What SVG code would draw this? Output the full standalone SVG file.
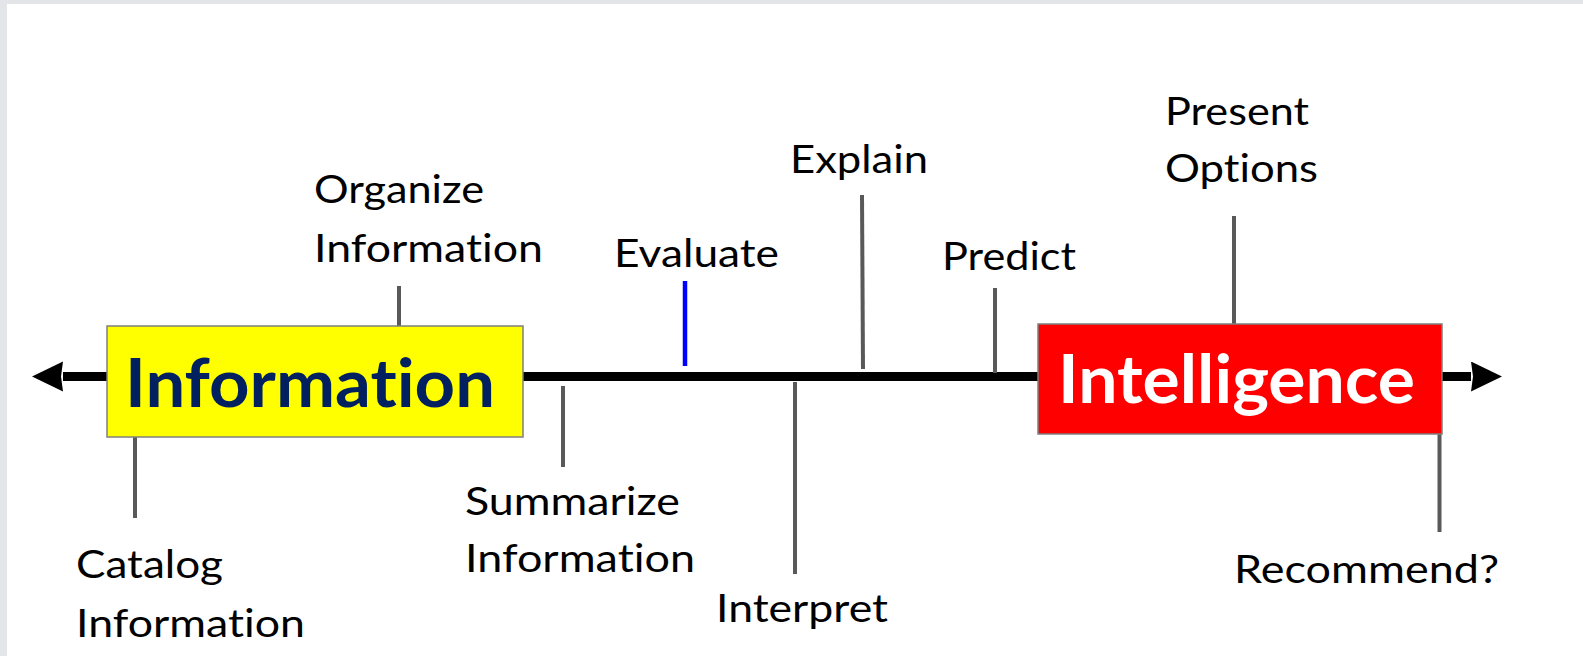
<svg xmlns="http://www.w3.org/2000/svg" width="1583" height="656" viewBox="0 0 1583 656">
<style>
text{font-variant-ligatures:none;font-feature-settings:"liga" 0,"clig" 0}
.lbl{font-family:Lato,"Liberation Sans",sans-serif;font-size:39px;fill:#000}
.big{font-family:Lato,"Liberation Sans",sans-serif;font-size:67px;font-weight:bold}
.tick{stroke:#595959;stroke-width:4;fill:none}
.box{stroke:#7f7f7f;stroke-width:1.5}
</style>
<defs>
<marker id="arr" markerUnits="userSpaceOnUse" markerWidth="32" markerHeight="31" refX="0" refY="15" orient="auto-start-reverse" viewBox="0 0 32 31">
<path d="M0,0 L31,15 L0,30 L2,15 z" fill="#000"/>
</marker>
</defs>
<rect x="0" y="0" width="1583" height="656" fill="#fff"/>
<rect x="0" y="0" width="1583" height="4" fill="#e4e5e9"/>
<rect x="0" y="0" width="7" height="656" fill="#e4e5e9"/>

<g id="connectors">
<line x1="63" y1="376.5" x2="1471" y2="376.5" stroke="#000" stroke-width="9" marker-start="url(#arr)" marker-end="url(#arr)"/>
<line class="tick" x1="399" y1="286" x2="399" y2="326"/>
<line class="tick" x1="135" y1="437" x2="135" y2="518"/>
<line class="tick" x1="563" y1="386" x2="563" y2="467"/>
<line x1="685" y1="281" x2="685" y2="366" stroke="#0000ff" stroke-width="4.5"/>
<line class="tick" x1="795" y1="382" x2="795" y2="574"/>
<line class="tick" x1="862" y1="195" x2="863" y2="369"/>
<line class="tick" x1="995" y1="288" x2="995" y2="373"/>
<line class="tick" x1="1234" y1="216" x2="1234" y2="324"/>
<line class="tick" x1="1439.5" y1="434" x2="1439.5" y2="532"/>
</g>

<g id="information">
<rect class="box" x="107" y="326" width="416" height="111" fill="#ffff00"/>
<text class="big" x="125" y="407" fill="#002060" textLength="370" lengthAdjust="spacingAndGlyphs">Information</text>
</g>
<g id="intelligence">
<rect class="box" x="1038" y="324" width="404" height="110" fill="#ff0000"/>
<text class="big" x="1058" y="403" fill="#fff" textLength="357" lengthAdjust="spacingAndGlyphs">Intelligence</text>
</g>

<g id="organize"><text class="lbl" x="314" y="203" textLength="170" lengthAdjust="spacingAndGlyphs">Organize</text><text class="lbl" x="314" y="262" textLength="229" lengthAdjust="spacingAndGlyphs">Information</text></g>
<g id="catalog"><text class="lbl" x="76" y="578" textLength="147" lengthAdjust="spacingAndGlyphs">Catalog</text><text class="lbl" x="76" y="636.5" textLength="229" lengthAdjust="spacingAndGlyphs">Information</text></g>
<g id="summarize"><text class="lbl" x="465" y="515" textLength="215" lengthAdjust="spacingAndGlyphs">Summarize</text><text class="lbl" x="465" y="571.5" textLength="230" lengthAdjust="spacingAndGlyphs">Information</text></g>
<g id="evaluate"><text class="lbl" x="614" y="266.5" textLength="165" lengthAdjust="spacingAndGlyphs">Evaluate</text></g>
<g id="explain"><text class="lbl" x="790" y="173" textLength="138" lengthAdjust="spacingAndGlyphs">Explain</text></g>
<g id="interpret"><text class="lbl" x="716" y="621.5" textLength="172" lengthAdjust="spacingAndGlyphs">Interpret</text></g>
<g id="predict"><text class="lbl" x="942" y="270" textLength="134" lengthAdjust="spacingAndGlyphs">Predict</text></g>
<g id="present"><text class="lbl" x="1165" y="125" textLength="144" lengthAdjust="spacingAndGlyphs">Present</text><text class="lbl" x="1165" y="181.5" textLength="153" lengthAdjust="spacingAndGlyphs">Options</text></g>
<g id="recommend"><text class="lbl" x="1234" y="583" textLength="265" lengthAdjust="spacingAndGlyphs">Recommend?</text></g>
</svg>
